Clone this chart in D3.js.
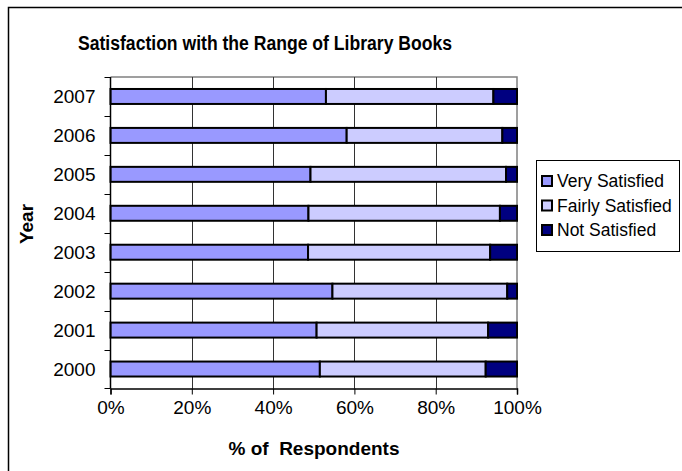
<!DOCTYPE html>
<html>
<head>
<meta charset="utf-8">
<script src="https://cdn.jsdelivr.net/npm/d3@7"></script>
<style>
  html, body { margin: 0; padding: 0; background: #fff; }
  svg { display: block; font-family: "Liberation Sans", Arial, sans-serif; }
</style>
</head>
<body>
<svg id="chart" width="682" height="471"></svg>
<script>
// Survey results by year (percent of respondents)
const years = ["2007", "2006", "2005", "2004", "2003", "2002", "2001", "2000"];
const verySatisfied   = [53.0, 58.1, 49.2, 48.7, 48.6, 54.6, 50.7, 51.5];
const fairlySatisfied = [41.2, 38.3, 48.1, 47.1, 44.8, 43.0, 42.2, 40.8];
const notSatisfied    = [5.8, 3.6, 2.7, 4.2, 6.6, 2.4, 7.1, 7.7];
const seriesNames = ["Very Satisfied", "Fairly Satisfied", "Not Satisfied"];
const seriesColors = ["#9999FF", "#CCCCFF", "#000080"];
const xTicks = [0, 20, 40, 60, 80, 100];

const svg = d3.select("#chart");

// outer chart frame (left and top edges visible)
svg.append("path")
  .attr("d", "M8.5,471 V7.5 H682")
  .attr("fill", "none").attr("stroke", "#000").attr("stroke-width", 1.5);

const plot = { left: 110.5, right: 517, top: 77, bottom: 388.5 };

const x = d3.scaleLinear().domain([0, 100]).range([plot.left, plot.right]);
const y = d3.scaleBand().domain(years).range([plot.top, plot.bottom]).paddingInner(0).paddingOuter(0);

// plot area border (top/right in grey)
svg.append("path")
  .attr("d", `M${plot.left},${plot.top} H${plot.right} V${plot.bottom}`)
  .attr("fill", "none").attr("stroke", "#808080").attr("stroke-width", 1.5);

// vertical gridlines
svg.append("g").selectAll("line")
  .data(xTicks.filter(t => t > 0 && t < 100))
  .join("line")
  .attr("x1", d => Math.round(x(d)) + 0.5).attr("x2", d => Math.round(x(d)) + 0.5)
  .attr("y1", plot.top).attr("y2", plot.bottom)
  .attr("stroke", "#333").attr("stroke-width", 1);

// stacked data
const rows = years.map((yr, i) => ({
  year: yr,
  [seriesNames[0]]: verySatisfied[i],
  [seriesNames[1]]: fairlySatisfied[i],
  [seriesNames[2]]: notSatisfied[i]
}));
const stacked = d3.stack().keys(seriesNames)(rows);

const barH = y.bandwidth() / 2.6;
svg.append("g").selectAll("g")
  .data(stacked)
  .join("g")
  .attr("fill", (d, i) => seriesColors[i])
  .selectAll("rect")
  .data(d => d)
  .join("rect")
  .attr("x", d => x(d[0]))
  .attr("width", d => x(d[1]) - x(d[0]))
  .attr("y", d => y(d.data.year) + (y.bandwidth() - barH) / 2)
  .attr("height", barH)
  .attr("stroke", "#000").attr("stroke-width", 2);

// x axis
const xAxis = d3.axisBottom(x).tickValues(xTicks).tickFormat(d => d + "%").tickSize(6).tickPadding(6);
const gx = svg.append("g").attr("transform", `translate(0,${plot.bottom})`).call(xAxis);
gx.select(".domain").attr("stroke", "#000").attr("stroke-width", 1.5);
gx.selectAll(".tick line").attr("stroke", "#000");
gx.selectAll("text").attr("font-size", 19).attr("fill", "#000")
  .attr("font-family", "Liberation Sans, Arial, sans-serif");

// y axis: labels at band centers, ticks at band boundaries
const gy = svg.append("g");
gy.append("line")
  .attr("x1", plot.left).attr("x2", plot.left)
  .attr("y1", plot.top).attr("y2", plot.bottom)
  .attr("stroke", "#000").attr("stroke-width", 1.5);
gy.selectAll(".bt")
  .data(years.concat(["end"]))
  .join("line")
  .attr("x1", plot.left - 6).attr("x2", plot.left)
  .attr("y1", (d, i) => i < years.length ? Math.round(y(d)) + 0.5 : plot.bottom)
  .attr("y2", (d, i) => i < years.length ? Math.round(y(d)) + 0.5 : plot.bottom)
  .attr("stroke", "#000");
gy.selectAll("text")
  .data(years)
  .join("text")
  .attr("x", plot.left - 15)
  .attr("y", d => y(d) + y.bandwidth() / 2)
  .attr("dy", "0.36em")
  .attr("text-anchor", "end")
  .attr("font-size", 19)
  .text(d => d);

// titles
svg.append("text")
  .attr("x", 265).attr("y", 50)
  .attr("text-anchor", "middle")
  .attr("font-size", 20).attr("font-weight", "bold")
  .attr("textLength", 374).attr("lengthAdjust", "spacingAndGlyphs")
  .text("Satisfaction with the Range of Library Books");

svg.append("text")
  .attr("x", 314).attr("y", 455)
  .attr("text-anchor", "middle")
  .attr("font-size", 19).attr("font-weight", "bold")
  .style("white-space", "pre")
  .text("% of  Respondents");

svg.append("text")
  .attr("transform", "translate(33,224) rotate(-90)")
  .attr("text-anchor", "middle")
  .attr("font-size", 19).attr("font-weight", "bold")
  .text("Year");

// legend
const lg = svg.append("g");
lg.append("rect")
  .attr("x", 536.5).attr("y", 160.5).attr("width", 143).attr("height", 91)
  .attr("fill", "#fff").attr("stroke", "#000").attr("stroke-width", 1);
const items = lg.selectAll(".item")
  .data(seriesNames)
  .join("g")
  .attr("transform", (d, i) => `translate(542,${181 + i * 24.5})`);
items.append("rect")
  .attr("x", 0).attr("y", -5).attr("width", 10).attr("height", 10)
  .attr("fill", (d, i) => seriesColors[i])
  .attr("stroke", "#000").attr("stroke-width", 2);
items.append("text")
  .attr("x", 15).attr("y", 0).attr("dy", "0.36em")
  .attr("font-size", 17.5)
  .text(d => d);
</script>
</body>
</html>
